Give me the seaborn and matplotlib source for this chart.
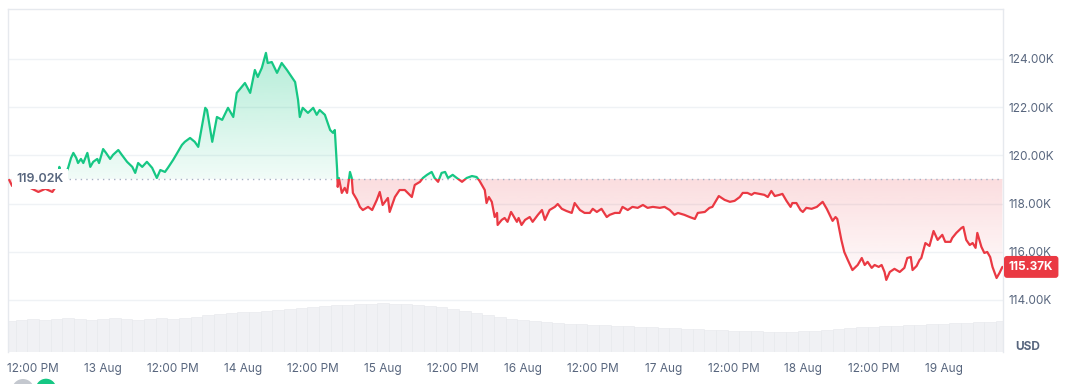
import numpy as np
import matplotlib
matplotlib.use("Agg")
import matplotlib.pyplot as plt
import matplotlib.transforms as mtransforms
from matplotlib.patches import Rectangle, PathPatch, Circle
import seaborn as sns

# ==========================================
# 1. DATA (hours after 12 Aug 00:00, price in thousand USD)
# ==========================================
hours = [
    7.9, 8.4, 9.8, 11.5, 12.9, 14.1, 15.3, 16.1, 16.5, 16.6, 17.0, 17.5, 18.0, 18.5, 18.9,
    19.4, 19.7, 20.2, 20.6, 21.3, 21.8, 22.3, 23.0, 23.3, 24.0, 24.5, 25.2, 25.7, 26.6, 27.2,
    28.1, 29.0, 29.5, 30.0, 30.7, 31.5, 32.4, 33.2, 33.8, 34.6, 35.1, 36.0, 36.7, 37.5, 38.0,
    38.9, 39.7, 40.3, 41.5, 41.8, 42.7, 43.5, 44.4, 45.4, 46.3, 46.9, 48.3, 49.2, 50.0, 50.5,
    51.2, 51.9, 52.2, 52.9, 53.8, 54.6, 55.5, 56.9, 57.4, 57.7, 58.2, 59.1, 60.0, 60.6, 61.1,
    62.0, 62.9, 63.4, 63.7, 64.1, 64.2, 64.4, 64.9, 65.4, 65.8, 66.3, 66.6, 66.8, 67.5, 68.0,
    68.5, 69.4, 70.1, 70.9, 71.4, 71.9, 72.8, 73.1, 74.0, 74.8, 75.7, 76.2, 76.9, 77.4, 78.3,
    78.8, 79.5, 80.3, 80.8, 81.4, 82.0, 82.6, 83.1, 83.9, 84.6, 85.5, 86.3, 87.2, 88.0, 88.5,
    89.4, 89.7, 90.1, 90.6, 91.1, 91.5, 91.6, 92.3, 92.8, 93.3, 93.9, 94.2, 94.9, 95.2, 95.7,
    96.3, 97.1, 97.6, 98.5, 99.2, 99.7, 100.5, 101.4, 101.9, 102.6, 103.4, 104.3, 104.8, 105.7, 106.5,
    107.4, 107.9, 108.6, 109.4, 110.3, 110.8, 111.7, 112.5, 113.0, 113.9, 114.7, 115.6, 116.5, 117.3, 118.2,
    119.4, 120.2, 121.1, 121.9, 122.5, 123.6, 124.5, 125.4, 125.9, 127.1, 127.9, 128.4, 129.1, 129.5, 130.5,
    131.4, 132.2, 133.1, 133.6, 134.4, 135.1, 135.6, 136.5, 137.3, 137.9, 138.5, 139.1, 139.9, 140.4, 141.1,
    141.8, 142.1, 142.8, 143.5, 143.9, 144.5, 145.4, 146.3, 147.3, 148.0, 148.5, 149.0, 149.5, 149.8, 150.5,
    151.0, 151.6, 152.4, 153.3, 154.0, 154.5, 155.0, 155.7, 156.2, 156.9, 157.4, 157.9, 158.2, 158.8, 159.6,
    160.5, 161.3, 161.8, 162.4, 162.7, 163.4, 163.9, 164.2, 164.9, 165.6, 166.3, 167.0, 167.8, 168.3, 169.2,
    169.5, 170.2, 171.1, 171.4, 171.9, 172.5, 173.0, 173.5, 173.8, 174.5, 175.0, 175.5, 176.0, 176.4, 177.1,
    177.6, 178.1,
]
price = [
    118.98, 118.73, 118.81, 118.65, 118.48, 118.61, 118.48, 118.77, 119.52, 119.27, 118.98, 119.19, 119.48, 119.89, 120.10,
    119.89, 119.68, 119.85, 119.68, 120.10, 119.52, 119.73, 119.85, 119.68, 120.26, 120.10, 119.85, 120.02, 120.22, 120.02,
    119.73, 119.52, 119.27, 119.68, 119.52, 119.73, 119.48, 119.06, 119.39, 119.31, 119.48, 119.81, 120.10, 120.43, 120.56,
    120.72, 120.56, 120.35, 121.97, 121.88, 120.56, 121.59, 121.47, 121.97, 121.59, 122.59, 123.00, 122.59, 123.54, 123.25,
    123.63, 124.25, 123.83, 123.87, 123.42, 123.83, 123.54, 123.04, 122.30, 121.59, 121.97, 121.76, 121.97, 121.68, 121.88,
    121.68, 121.05, 120.93, 121.05, 119.39, 118.69, 119.06, 118.44, 118.65, 118.44, 119.31, 119.06, 118.44, 118.15, 117.86,
    117.73, 117.86, 117.73, 118.15, 118.48, 117.94, 118.23, 117.65, 118.27, 118.56, 118.56, 118.44, 118.27, 118.77, 118.90,
    119.06, 119.19, 119.31, 119.06, 118.90, 119.27, 119.31, 119.06, 119.19, 119.06, 118.90, 119.06, 119.14, 119.10, 118.94,
    118.56, 118.02, 118.27, 118.07, 117.44, 117.61, 117.11, 117.32, 117.40, 117.24, 117.65, 117.53, 117.24, 117.40, 117.11,
    117.32, 117.44, 117.24, 117.53, 117.73, 117.32, 117.73, 117.86, 117.98, 117.78, 117.69, 117.61, 118.02, 117.73, 117.61,
    117.61, 117.78, 117.65, 117.78, 117.44, 117.53, 117.61, 117.61, 117.86, 117.73, 117.86, 117.82, 117.94, 117.82, 117.86,
    117.82, 117.86, 117.73, 117.53, 117.61, 117.53, 117.44, 117.36, 117.61, 117.65, 117.82, 117.86, 118.15, 118.31, 118.15,
    118.07, 118.11, 118.27, 118.44, 118.44, 118.36, 118.44, 118.40, 118.36, 118.27, 118.52, 118.31, 118.36, 118.40, 118.11,
    117.86, 118.02, 118.02, 117.73, 117.65, 117.82, 117.78, 117.86, 118.07, 117.78, 117.53, 117.28, 117.44, 117.36, 116.49,
    115.99, 115.66, 115.24, 115.45, 115.74, 115.45, 115.58, 115.33, 115.45, 115.37, 115.45, 115.16, 114.83, 115.16, 115.29,
    115.16, 115.33, 115.74, 115.78, 115.24, 115.41, 115.66, 115.74, 116.36, 116.24, 116.86, 116.49, 116.70, 116.41, 116.41,
    116.57, 116.78, 116.99, 117.03, 116.49, 116.28, 116.36, 116.16, 116.78, 116.20, 115.95, 115.99, 115.78, 115.37, 114.91,
    115.12, 115.37,
]

ref_price = 119.02
last_price = 115.37

# volume bars every 2 hours (billion USD, rough read)
vol_hours = list(range(8, 179, 2))
volume = [
    3.1, 3.2, 3.3, 3.2, 3.3, 3.4, 3.3, 3.2, 3.3, 3.4,
    3.3, 3.2, 3.3, 3.4, 3.3, 3.4, 3.5, 3.7, 3.8, 3.9,
    4.0, 4.0, 4.1, 4.2, 4.3, 4.4, 4.5, 4.6, 4.7, 4.7,
    4.8, 4.8, 4.9, 4.8, 4.8, 4.7, 4.6, 4.5, 4.3, 4.1,
    3.9, 3.7, 3.5, 3.3, 3.2, 3.1, 3.0, 2.9, 2.8, 2.8,
    2.7, 2.7, 2.6, 2.6, 2.5, 2.5, 2.4, 2.4, 2.3, 2.3,
    2.2, 2.2, 2.1, 2.1, 2.1, 2.0, 2.0, 2.0, 2.1, 2.1,
    2.2, 2.3, 2.4, 2.5, 2.5, 2.6, 2.6, 2.7, 2.7, 2.8,
    2.8, 2.9, 2.9, 3.0, 3.0, 3.1,
]

tick_hours = [12, 24, 36, 48, 60, 72, 84, 96, 108, 120, 132, 144, 156, 168]
tick_labels = ["12:00 PM", "13 Aug", "12:00 PM", "14 Aug", "12:00 PM", "15 Aug", "12:00 PM",
               "16 Aug", "12:00 PM", "17 Aug", "12:00 PM", "18 Aug", "12:00 PM", "19 Aug"]
price_ticks = [114, 116, 118, 120, 122, 124]

GREEN = "#16c784"
RED = "#ea3943"
TEXT = "#58667e"

# ==========================================
# 2. FIGURE
# ==========================================
sns.set_theme(style="white")
plt.rcParams["font.family"] = ["Inter", "DejaVu Sans"]

fig = plt.figure(figsize=(10.66, 3.84), dpi=100)
pos = [8 / 1066, 1 - 352 / 384, 995 / 1066, 343 / 384]
x0, x1 = 7.7, 178.2
y0, y1 = 111.84, 126.07

# volume in the background
ax_vol = fig.add_axes(pos)
ax_vol.bar(vol_hours, volume, width=2.0, color="#f0f1f4", edgecolor="#e6e8ec", linewidth=0.4)
ax_vol.set_xlim(x0, x1)
ax_vol.set_ylim(0, 34.3)
ax_vol.axis("off")

ax = fig.add_axes(pos)
ax.patch.set_visible(False)

# gradient fills between the price and the reference line
poly = ax.fill_between(hours, price, ref_price, color="none", linewidth=0)
clip = PathPatch(poly.get_paths()[0], transform=ax.transData, facecolor="none", edgecolor="none")
ax.add_patch(clip)

green_grad = np.zeros((256, 1, 4))
green_grad[..., :3] = matplotlib.colors.to_rgb(GREEN)
green_grad[:, 0, 3] = np.linspace(0.06, 0.32, 256)
im_g = ax.imshow(green_grad, extent=[x0, x1, ref_price, max(price)], origin="lower",
                 aspect="auto", zorder=1, interpolation="bilinear")
im_g.set_clip_path(clip)

red_grad = np.zeros((256, 1, 4))
red_grad[..., :3] = matplotlib.colors.to_rgb(RED)
red_grad[:, 0, 3] = np.linspace(0.02, 0.17, 256)
im_r = ax.imshow(red_grad, extent=[x0, x1, min(price), ref_price], origin="lower",
                 aspect="auto", zorder=1, interpolation="bilinear")
im_r.set_clip_path(clip)

# reference line
ax.axhline(ref_price, color="#a6b0c3", linestyle=(0, (1, 3)), linewidth=1, zorder=2)

# price line: green above the reference, red below
sns.lineplot(x=hours, y=price, ax=ax, color=GREEN, linewidth=1.6, sort=False, estimator=None, zorder=3)
ax.lines[-1].set_clip_path(Rectangle((x0, ref_price), x1 - x0, 20, transform=ax.transData))
sns.lineplot(x=hours, y=price, ax=ax, color=RED, linewidth=1.6, sort=False, estimator=None, zorder=3)
ax.lines[-1].set_clip_path(Rectangle((x0, ref_price - 20), x1 - x0, 20, transform=ax.transData))

ax.set_xlim(x0, x1)
ax.set_ylim(y0, y1)

# axes styling
ax.set_xticks(tick_hours, tick_labels)
ax.yaxis.tick_right()
ax.set_yticks(price_ticks, [f"{v:.2f}K" for v in price_ticks])
ax.tick_params(axis="x", length=0, pad=8, labelsize=8.5, labelcolor=TEXT)
ax.tick_params(axis="y", length=0, pad=4, labelsize=8.5, labelcolor=TEXT)
ax.grid(True, axis="y", color="#eff2f5", linewidth=1)
ax.grid(False, axis="x")
ax.set_xlabel("")
ax.set_ylabel("")
for side in ["top", "left", "right"]:
    ax.spines[side].set_color("#e6e9ee")
    ax.spines[side].set_linewidth(1)
ax.spines["bottom"].set_visible(False)

# labels on the lines
ax.text(0.008, ref_price, "119.02K", transform=mtransforms.blended_transform_factory(ax.transAxes, ax.transData),
        ha="left", va="center", fontsize=9, fontweight="semibold", color=TEXT, zorder=5,
        bbox=dict(boxstyle="square,pad=0.35", facecolor="white", edgecolor="none"))
ax.text(1.006, last_price, f"{last_price:.2f}K",
        transform=mtransforms.blended_transform_factory(ax.transAxes, ax.transData),
        ha="left", va="center", fontsize=8.5, fontweight="bold", color="white", zorder=6, clip_on=False,
        bbox=dict(boxstyle="round,pad=0.42,rounding_size=0.25", facecolor=RED, edgecolor="none"))
fig.text(1028 / 1066, 1 - 347 / 384, "USD", ha="center", va="center", fontsize=8.5,
         fontweight="bold", color=TEXT)

# logo peeking at the bottom left
fig.add_artist(Circle((0.23, -0.06), 0.11, transform=fig.dpi_scale_trans, facecolor="#c4c8cf", edgecolor="none"))
fig.add_artist(Circle((0.46, -0.05), 0.11, transform=fig.dpi_scale_trans, facecolor=GREEN, edgecolor="white", linewidth=1))

plt.savefig("out.png", dpi=100)
